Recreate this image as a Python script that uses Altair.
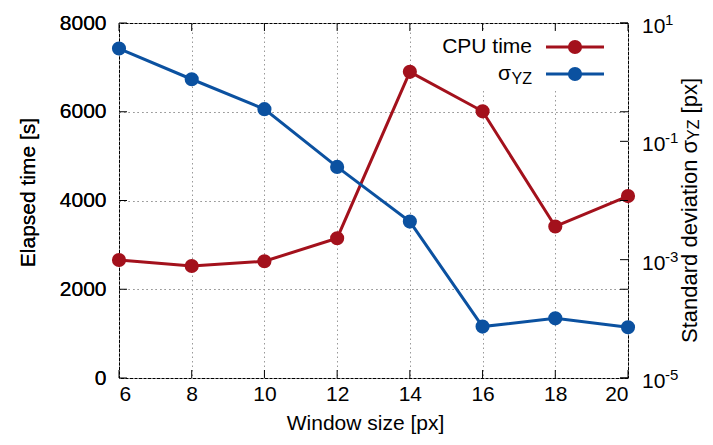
import altair as alt
import pandas as pd

# ---- data ----
window = [6, 8, 10, 12, 14, 16, 18, 20]
cpu_time = [2660, 2525, 2630, 3150, 6900, 6010, 3415, 4100]
sigma_yz = [3.7, 1.12, 0.35, 0.037, 0.0044, 7.4e-5, 1.02e-4, 7.2e-5]

x_ticks = [6, 8, 10, 12, 14, 16, 18, 20]
left_ticks = [0, 2000, 4000, 6000, 8000]
right_ticks = [10, 0.1, 0.001, 0.00001]
right_exp = ["1", "-1", "-3", "-5"]

RED = "#A3111C"
BLUE = "#0B51A0"
W, H = 509, 355
FONT = "Liberation Sans"
FS = 21

df = pd.DataFrame({"w": window, "cpu": cpu_time, "sigma": sigma_yz})
xt = pd.DataFrame({"w": x_ticks})
lt = pd.DataFrame({"v": left_ticks})
rt = pd.DataFrame({"v": right_ticks, "e": right_exp})
one = pd.DataFrame({"a": [0]})

xscale = alt.Scale(domain=[6, 20], nice=False, zero=False)
yl_scale = alt.Scale(domain=[0, 8000], nice=False, zero=False)
yr_scale = alt.Scale(type="log", domain=[1e-5, 10], nice=False)

X = alt.X(
    "w:Q", scale=xscale, title="Window size [px]",
    axis=alt.Axis(values=x_ticks, format="d", grid=True, ticks=False, domain=False,
                  labelPadding=5, titlePadding=8, titleX=246,
                  gridDash=[1.5, 3], gridColor="#999999", gridOpacity=1),
)

# legend background (opaque key box, hides grid only)
legend_bg = alt.Chart(one).mark_rect(color="white").encode(
    x=alt.value(305), x2=alt.value(500), y=alt.value(9), y2=alt.value(65)
)

cpu_base = alt.Chart(df).encode(
    x=X,
    y=alt.Y("cpu:Q", scale=yl_scale, title="Elapsed time [s]",
            axis=alt.Axis(orient="left", values=left_ticks, format="d", grid=True,
                          ticks=False, domain=False, labelPadding=13, titlePadding=21,
                          titleY=169,
                          gridDash=[1.5, 3], gridColor="#999999", gridOpacity=1)),
)
cpu_line = cpu_base.mark_line(color=RED, strokeWidth=3)
cpu_pts = cpu_base.mark_point(filled=True, size=200, opacity=1, color=RED)

sig_base = alt.Chart(df).encode(
    x=X, y=alt.Y("sigma:Q", scale=yr_scale, axis=None)
)
sig_line = sig_base.mark_line(color=BLUE, strokeWidth=3)
sig_pts = sig_base.mark_point(filled=True, size=200, opacity=1, color=BLUE)

# inward ticks
xt_bottom = alt.Chart(xt).mark_rule(color="black").encode(x=X, y=alt.value(H), y2=alt.value(H - 8))
xt_top = alt.Chart(xt).mark_rule(color="black").encode(x=X, y=alt.value(0), y2=alt.value(8))
lt_left = alt.Chart(lt).mark_rule(color="black").encode(
    y=alt.Y("v:Q", scale=yl_scale, axis=None), x=alt.value(0), x2=alt.value(8))
lt_right = alt.Chart(lt).mark_rule(color="black").encode(
    y=alt.Y("v:Q", scale=yl_scale, axis=None), x=alt.value(W - 8), x2=alt.value(W))
rt_right = alt.Chart(rt).mark_rule(color="black").encode(
    y=alt.Y("v:Q", scale=yr_scale, axis=None), x=alt.value(W - 8), x2=alt.value(W))

# right axis labels with superscripts
rt_base = alt.Chart(rt).mark_text(align="left", baseline="middle", font=FONT, fontSize=FS, dy=4, color="black").encode(
    y=alt.Y("v:Q", scale=yr_scale, axis=None), x=alt.value(W + 14), text=alt.value("10"))
rt_exp = alt.Chart(rt).mark_text(align="left", baseline="middle", font=FONT, fontSize=15, dy=-3, color="black").encode(
    y=alt.Y("v:Q", scale=yr_scale, axis=None), x=alt.value(W + 14 + 23), text="e:N")

# right axis title with subscript
TF = 22
TX = 571
Y0 = 320
w1 = 9.226 * TF
w2 = 1.278 * 16 + 0.278 * TF
t1 = alt.Chart(one).mark_text(align="left", baseline="middle", angle=270, font=FONT, fontSize=TF, color="black").encode(
    x=alt.value(TX), y=alt.value(Y0), text=alt.value("Standard deviation σ"))
t2 = alt.Chart(one).mark_text(align="left", baseline="middle", angle=270, font=FONT, fontSize=16, dy=4, color="black").encode(
    x=alt.value(TX), y=alt.value(Y0 - w1), text=alt.value("YZ"))
t3 = alt.Chart(one).mark_text(align="left", baseline="middle", angle=270, font=FONT, fontSize=TF, color="black").encode(
    x=alt.value(TX), y=alt.value(Y0 - w1 - w2), text=alt.value("[px]"))

# legend
lg = []
for yy, col in [(24, RED), (51, BLUE)]:
    lg.append(alt.Chart(one).mark_rule(color=col, strokeWidth=3).encode(
        x=alt.value(427), x2=alt.value(485), y=alt.value(yy)))
    lg.append(alt.Chart(one).mark_point(filled=True, size=200, opacity=1, color=col).encode(
        x=alt.value(456), y=alt.value(yy)))
lg.append(alt.Chart(one).mark_text(align="right", baseline="middle", font=FONT, fontSize=FS, color="black").encode(
    x=alt.value(413), y=alt.value(24), text=alt.value("CPU time")))
lg.append(alt.Chart(one).mark_text(align="right", baseline="middle", font=FONT, fontSize=16, dy=5, color="black").encode(
    x=alt.value(413), y=alt.value(51), text=alt.value("YZ")))
lg.append(alt.Chart(one).mark_text(align="right", baseline="middle", font=FONT, fontSize=FS, color="black").encode(
    x=alt.value(413 - 21), y=alt.value(51), text=alt.value("σ")))

chart = alt.layer(
    legend_bg, cpu_line, cpu_pts, sig_line, sig_pts,
    xt_bottom, xt_top, lt_left, lt_right, rt_right,
    rt_base, rt_exp, t1, t2, t3, *lg
).resolve_scale(y="independent").properties(
    width=W, height=H,
    padding={"left": 111, "top": 15, "right": 77, "bottom": 59},
    autosize=alt.AutoSizeParams(type="none"),
    background="white",
).configure_view(stroke="black", strokeWidth=1).configure_axis(
    labelFont=FONT, titleFont=FONT, labelFontSize=FS, titleFontSize=FS,
    labelColor="black", titleColor="black", titleFontWeight="normal",
)

chart.save("out.html", embed_options={"renderer": "svg", "actions": False})
